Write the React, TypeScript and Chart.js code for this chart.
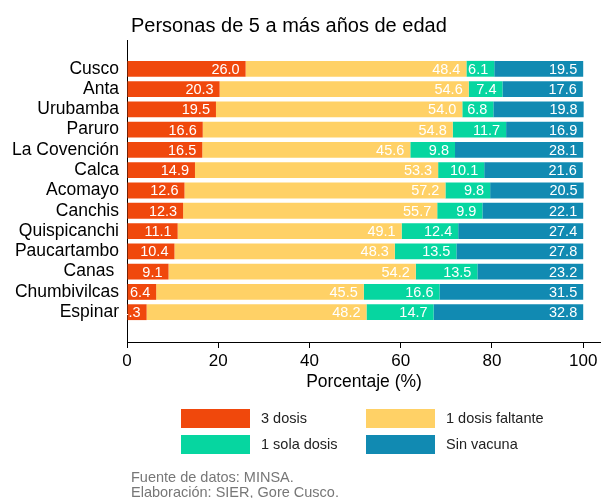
import React, { useEffect, useRef } from "react";
import { Chart, registerables } from "chart.js";

Chart.register(...registerables);

const titleText = "Personas de 5 a más años de edad";
const axisTitle = "Porcentaje (%)";
const captionLines = ["Fuente de datos: MINSA.", "Elaboración: SIER, Gore Cusco."];

const categories = [
  "Cusco",
  "Anta",
  "Urubamba",
  "Paruro",
  "La Covención",
  "Calca",
  "Acomayo",
  "Canchis",
  "Quispicanchi",
  "Paucartambo",
  "Canas ",
  "Chumbivilcas",
  "Espinar",
];

const seriesNames = ["3 dosis", "1 dosis faltante", "1 sola dosis", "Sin vacuna"];
const seriesColors = ["#F0480C", "#FFD166", "#06D6A0", "#118AB2"];

const tresDosis = [26.0, 20.3, 19.5, 16.6, 16.5, 14.9, 12.6, 12.3, 11.1, 10.4, 9.1, 6.4, 4.3];
const dosisFaltante = [48.4, 54.6, 54.0, 54.8, 45.6, 53.3, 57.2, 55.7, 49.1, 48.3, 54.2, 45.5, 48.2];
const solaDosis = [6.1, 7.4, 6.8, 11.7, 9.8, 10.1, 9.8, 9.9, 12.4, 13.5, 13.5, 16.6, 14.7];
const sinVacuna = [19.5, 17.6, 19.8, 16.9, 28.1, 21.6, 20.5, 22.1, 27.4, 27.8, 23.2, 31.5, 32.8];

const xTicks = [0, 20, 40, 60, 80, 100];

const FONT = "'Liberation Sans', Arial, sans-serif";

export default function App() {
  const ref = useRef<HTMLCanvasElement | null>(null);

  useEffect(() => {
    if (!ref.current) return;
    const seriesValues = [tresDosis, dosisFaltante, solaDosis, sinVacuna];

    const labelPlugin = {
      id: "segLabels",
      afterDatasetsDraw(chart: any) {
        const { ctx, chartArea } = chart;
        ctx.save();
        ctx.beginPath();
        ctx.rect(chartArea.left, chartArea.top, chartArea.right - chartArea.left, chartArea.bottom - chartArea.top);
        ctx.clip();
        ctx.font = `14.5px ${FONT}`;
        ctx.fillStyle = "#ffffff";
        ctx.textAlign = "right";
        ctx.textBaseline = "middle";
        chart.data.datasets.forEach((ds: any, di: number) => {
          const meta = chart.getDatasetMeta(di);
          meta.data.forEach((el: any, i: number) => {
            const v = seriesValues[di][i];
            ctx.fillText(v.toFixed(1), el.x - 6, el.y + 1);
          });
        });
        ctx.restore();
      },
      afterDraw(chart: any) {
        const { ctx, chartArea } = chart;
        ctx.save();
        ctx.fillStyle = "#000";
        ctx.textAlign = "left";
        ctx.textBaseline = "alphabetic";
        ctx.font = `20px ${FONT}`;
        ctx.fillText(titleText, 131, 32);

        ctx.textAlign = "center";
        ctx.font = `17.5px ${FONT}`;
        ctx.fillText(axisTitle, (chartArea.left + chartArea.right) / 2, 387);

        // legend 2x2
        const boxW = 69;
        const boxH = 19;
        const colX = [181, 366];
        const rowY = [409, 435];
        ctx.font = `14.5px ${FONT}`;
        ctx.textAlign = "left";
        ctx.textBaseline = "middle";
        seriesNames.forEach((name, i) => {
          const cx = colX[i % 2];
          const ry = rowY[Math.floor(i / 2)];
          ctx.fillStyle = seriesColors[i];
          ctx.fillRect(cx, ry, boxW, boxH);
          ctx.fillStyle = "#222";
          ctx.fillText(name, cx + 80, ry + boxH / 2 + 0.5);
        });

        ctx.font = `14.5px ${FONT}`;
        ctx.fillStyle = "#777";
        ctx.textBaseline = "alphabetic";
        captionLines.forEach((line, i) => {
          ctx.fillText(line, 131, 481.5 + i * 15.5);
        });
        ctx.restore();
      },
    };

    const chart = new Chart(ref.current, {
      type: "bar",
      data: {
        datasets: seriesNames.map((name, si) => ({
          label: name,
          data: seriesValues[si].map((v, i) => ({ x: v, y: i })),
          backgroundColor: seriesColors[si],
          borderWidth: 0,
          barPercentage: 0.78,
          categoryPercentage: 1,
          stack: "s",
        })),
      },
      options: {
        indexAxis: "y",
        animation: false,
        responsive: false,
        devicePixelRatio: 1,
        layout: { padding: { top: 40, left: 0, right: 0, bottom: 0 } },
        plugins: {
          legend: { display: false },
          tooltip: { enabled: false },
          title: { display: false },
        },
        scales: {
          x: {
            type: "linear",
            stacked: true,
            min: 0,
            max: 103.9,
            position: "bottom",
            offset: false,
            afterBuildTicks: (s: any) => {
              s.ticks = xTicks.map((v) => ({ value: v }));
            },
            afterFit: (s: any) => {
              s.height = 156;
            },
            ticks: {
              font: { size: 17, family: FONT },
              color: "#000",
              padding: 3,
              maxRotation: 0,
            },
            grid: {
              display: true,
              drawOnChartArea: false,
              drawTicks: true,
              tickLength: 6,
              color: "#000",
              lineWidth: 1,
              offset: false,
            },
            border: { display: true, color: "#000", width: 1 },
          },
          y: {
            type: "linear",
            stacked: true,
            reverse: true,
            offset: false,
            min: -1.42,
            max: 13.47,
            afterBuildTicks: (s: any) => {
              s.ticks = categories.map((_, i) => ({ value: i }));
            },
            afterFit: (s: any) => {
              s.width = 127;
            },
            ticks: {
              font: { size: 17.5, family: FONT },
              color: "#000",
              padding: 8,
              callback: (v: any) => categories[v as number] ?? "",
            },
            grid: { display: false, drawTicks: false, offset: false },
            border: { display: true, color: "#000", width: 1 },
          },
        },
      } as any,
      plugins: [labelPlugin],
    });
    return () => chart.destroy();
  }, []);

  return (
    <div style={{ position: "fixed", left: 0, top: 0, width: 601, height: 498, background: "#fff" }}>
      <canvas ref={ref} width={601} height={498} style={{ display: "block", width: 601, height: 498 }} />
    </div>
  );
}
